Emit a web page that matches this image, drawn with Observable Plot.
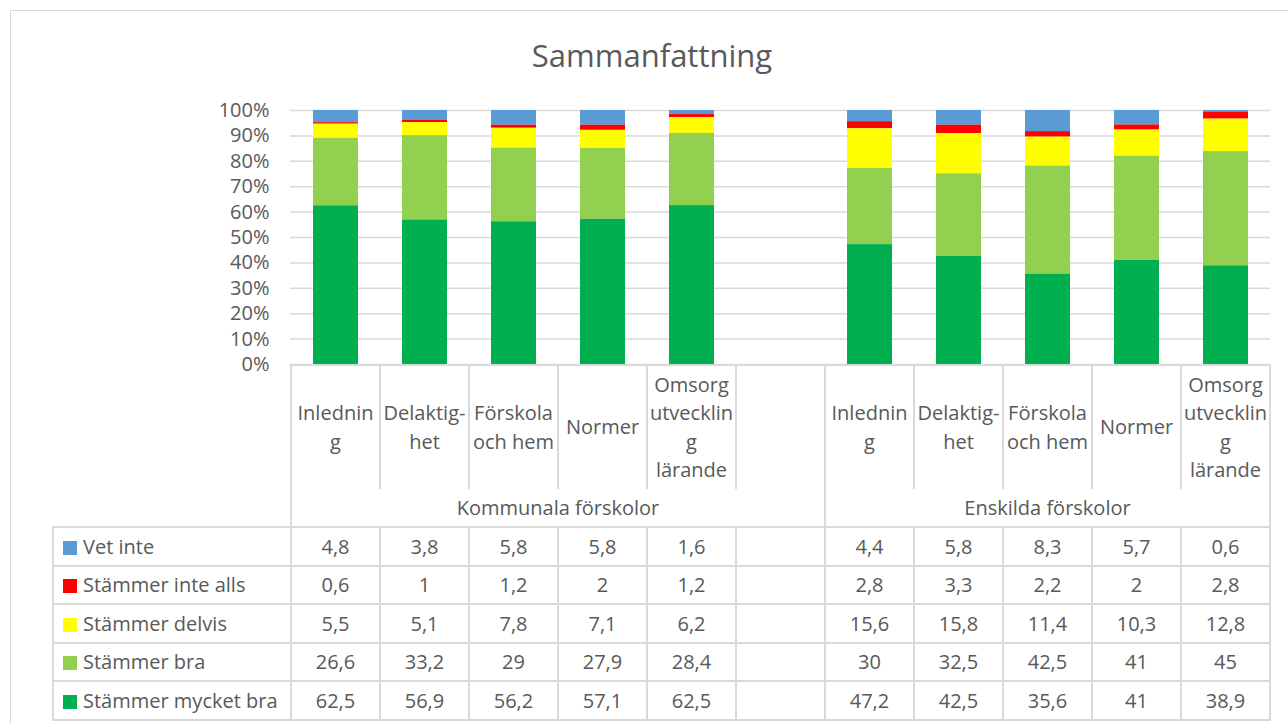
<!DOCTYPE html>
<html><head><meta charset="utf-8">
<script src="https://cdn.jsdelivr.net/npm/d3@7"></script>
<script src="https://cdn.jsdelivr.net/npm/@observablehq/plot@0.6"></script>
<style>
body{margin:0;background:#fff;font-family:"Open Sans",sans-serif;color:#595959;}
#wrap{position:relative;width:1288px;height:724px;overflow:hidden;}
#frame{position:absolute;left:10px;top:10px;width:1300px;height:740px;border:1px solid #d9d9d9;box-sizing:border-box;}
#title{position:absolute;left:0;width:1304px;top:33px;text-align:center;font-size:31px;line-height:44px;}
#chart{position:absolute;left:0;top:95px;}
#tbl{position:absolute;left:52px;top:364px;border-collapse:collapse;table-layout:fixed;font-size:20px;color:#595959;}
#tbl td{padding:0;text-align:center;vertical-align:middle;}
#tbl tr.cat td{height:123px;border-left:2px solid #d9d9d9;border-right:2px solid #d9d9d9;border-top:2px solid #d9d9d9;white-space:pre;line-height:28.5px;}
#tbl tr.grp td{height:37px;border-left:2px solid #d9d9d9;border-right:2px solid #d9d9d9;}
#tbl tr.val td{height:36.5px;border:2px solid #d9d9d9;}
#tbl td.blank{border:none !important;}
#tbl td.lab{text-align:left;padding-left:9px;white-space:nowrap;}
.sw{display:inline-block;width:14px;height:14px;margin-right:6px;vertical-align:-1px;}
</style></head>
<body>
<div id="wrap">
  <div id="frame"></div>
  <div id="title">Sammanfattning</div>
  <table id="tbl"></table>
  <div id="chart"></div>
</div>
<script>
const groups = ["Kommunala förskolor", "Enskilda förskolor"];
const categories = ["Inledning", "Delaktighet", "Förskola och hem", "Normer", "Omsorg utveckling lärande"];
const categoryLabels = ["Inlednin\ng", "Delaktig-\nhet", "Förskola\noch hem", "Normer", "Omsorg\nutvecklin\ng\nlärande"];
const series = ["Vet inte", "Stämmer inte alls", "Stämmer delvis", "Stämmer bra", "Stämmer mycket bra"];
const colors = ["#5b9bd5", "#ff0000", "#ffff00", "#92d050", "#00b050"];
// values: 5 Kommunala then 5 Enskilda
const vetInte   = [4.8, 3.8, 5.8, 5.8, 1.6,   4.4, 5.8, 8.3, 5.7, 0.6];
const inteAlls  = [0.6, 1, 1.2, 2, 1.2,       2.8, 3.3, 2.2, 2, 2.8];
const delvis    = [5.5, 5.1, 7.8, 7.1, 6.2,   15.6, 15.8, 11.4, 10.3, 12.8];
const bra       = [26.6, 33.2, 29, 27.9, 28.4, 30, 32.5, 42.5, 41, 45];
const mycketBra = [62.5, 56.9, 56.2, 57.1, 62.5, 47.2, 42.5, 35.6, 41, 38.9];
const yTicks = [0, 0.1, 0.2, 0.3, 0.4, 0.5, 0.6, 0.7, 0.8, 0.9, 1];

const seriesValues = [vetInte, inteAlls, delvis, bra, mycketBra];
const fmt = v => String(v).replace(".", ",");

// slots: 5 per group, one empty slot between groups
const slots = [];
const slotInfo = [];
groups.forEach((g, gi) => {
  categories.forEach((c, ci) => {
    const key = g + "|" + c;
    slots.push(key);
    slotInfo.push({key, label: categoryLabels[ci], idx: gi * categories.length + ci});
  });
  if (gi === 0) { slots.push("gap"); slotInfo.push({key: "gap", label: "", idx: -1}); }
});

const rows = [];
slotInfo.forEach(s => {
  if (s.idx < 0) return;
  series.forEach((name, si) => rows.push({slot: s.key, series: name, value: seriesValues[si][s.idx]}));
});

const chart = Plot.plot({
  width: 1288, height: 290,
  marginTop: 15, marginBottom: 21, marginLeft: 290, marginRight: 18,
  style: {fontFamily: "Open Sans", fontSize: "20px", color: "#595959", background: "transparent", overflow: "visible"},
  x: {domain: slots, paddingInner: 0.5, paddingOuter: 0.25, axis: null},
  y: {domain: [0, 1], ticks: yTicks, tickFormat: d3.format(".0%"), tickSize: 0, tickPadding: 21, label: null},
  color: {domain: series, range: colors},
  marks: [
    Plot.ruleY(yTicks, {stroke: "#d9d9d9", strokeWidth: 1.5}),
    Plot.barY(rows, Plot.stackY({offset: "normalize", order: [...series].reverse()},
      {x: "slot", y: "value", fill: "series"}))
  ]
});
document.getElementById("chart").appendChild(chart);

const xs = chart.scale("x");
const step = xs.step || (1288 - 18 - 290) / slots.length;

const tbl = document.getElementById("tbl");
let html = "<colgroup><col style='width:238px'>" + slots.map(() => `<col style='width:${step}px'>`).join("") + "</colgroup>";
html += "<tr class='cat'><td class='blank'></td>" + slotInfo.map(s => `<td>${s.label}</td>`).join("") + "</tr>";
html += "<tr class='grp'><td class='blank'></td><td colspan='" + (categories.length + 1) + "'>" + groups[0] + "</td><td colspan='" + categories.length + "'>" + groups[1] + "</td></tr>";
series.forEach((name, si) => {
  html += "<tr class='val'><td class='lab'><span class='sw' style='background:" + colors[si] + "'></span>" + name + "</td>" +
    slotInfo.map(s => "<td>" + (s.idx < 0 ? "" : fmt(seriesValues[si][s.idx])) + "</td>").join("") + "</tr>";
});
tbl.innerHTML = html;
</script>
</body></html>
